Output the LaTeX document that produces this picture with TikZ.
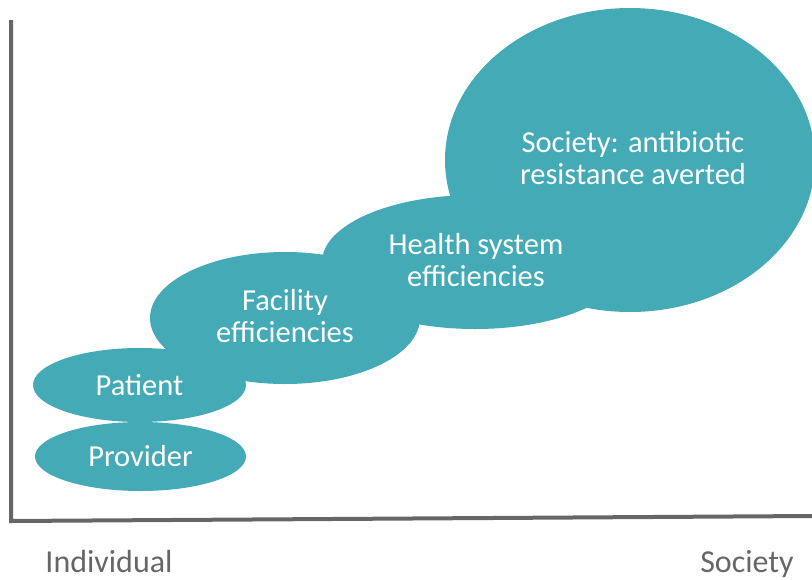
\documentclass[tikz,border=0pt]{standalone}
\usepackage{fontspec}
\setmainfont{Carlito}
\usetikzlibrary{shapes.geometric}
\definecolor{teal1}{RGB}{67,170,182}
\definecolor{axisgray}{RGB}{102,102,102}
\tikzset{
  blob/.style={ellipse, fill=teal1, draw=none, inner sep=0pt, text=white, align=center,
    font=\fontsize{30.5}{32}\selectfont},
  blobtext/.style={text=white, align=center, font=\fontsize{30.5}{32}\selectfont, inner sep=0pt},
  axislabel/.style={text=axisgray, font=\fontsize{32}{34}\selectfont, inner sep=0pt, anchor=base, text depth=0pt},
  axisline/.style={draw=axisgray, line width=4pt, line join=miter}
}
\begin{document}
\begin{tikzpicture}[x=1pt,y=-1pt]
\useasboundingbox (0,0) rectangle (812,579);
\clip (0,0) rectangle (812,579);
\node[blob, minimum width=370pt, minimum height=304pt] (soc) at (630,160) {};
\node[blob, minimum width=306pt, minimum height=134pt] (hs) at (475,262) {};
\node[blob, minimum width=270pt, minimum height=132pt] (fac) at (285,318) {};
\node[blob, minimum width=213pt, minimum height=74pt] (pat) at (139.5,385) {Patient};
\node[blob, minimum width=211pt, minimum height=69pt] (prov) at (140.5,456.5) {Provider};
\node[blobtext] (soct) at (633,158) {Society: antibiotic\\resistance averted};
\node[blobtext] (hst) at (476,260) {Health system\\efficiencies};
\node[blobtext] (fact) at (285,316) {Facility\\efficiencies};
\coordinate (ytop) at (11,20);
\coordinate (orig) at (11,521);
\coordinate (xend) at (812,516);
\draw[axisline] (ytop) -- (orig) -- (xend);
\node[axislabel] (ind) at (109,572) {Individual};
\node[axislabel] (socl) at (747,572) {Society};
\end{tikzpicture}
\end{document}
